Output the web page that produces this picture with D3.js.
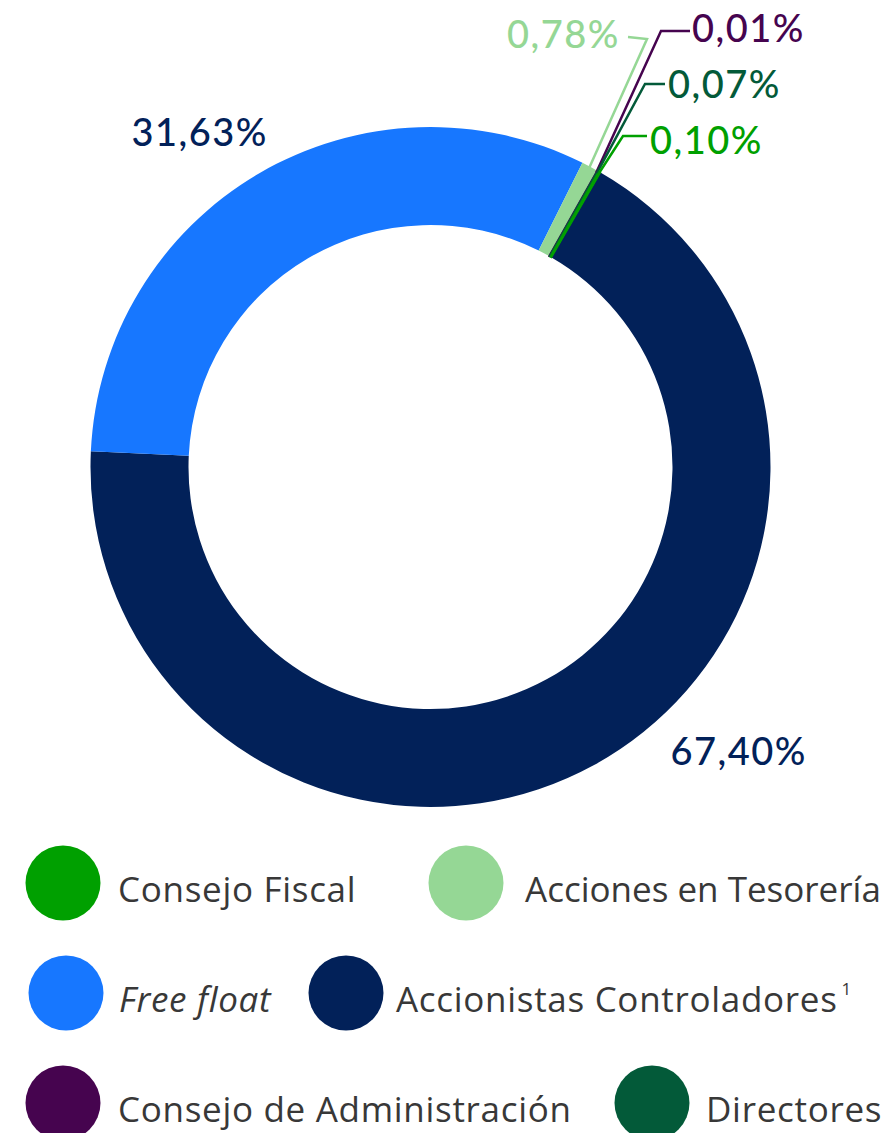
<!DOCTYPE html>
<html>
<head>
<meta charset="utf-8">
<script src="https://cdn.jsdelivr.net/npm/d3@7"></script>
<style>
  body { margin: 0; background: #fff; }
  svg { display: block; }
</style>
</head>
<body>
<div id="vis"></div>
<script>
// Frame
const FRAME_WIDTH = 888;
const FRAME_HEIGHT = 1133;

// Data (clockwise, starting from the controlling shareholders slice)
const SLICE_NAMES = ["Accionistas Controladores", "Free float", "Acciones en Tesorería",
                     "Consejo de Administración", "Directores", "Consejo Fiscal"];
const SLICE_VALUES = [67.40, 31.63, 0.78, 0.01, 0.07, 0.10];
const SLICE_LABELS = ["67,40%", "31,63%", "0,78%", "0,01%", "0,07%", "0,10%"];
const SLICE_COLORS = ["#022159", "#1777FF", "#95D795", "#46044F", "#035A39", "#00A000"];

// Legend (reading order)
const LEGEND_NAMES = ["Consejo Fiscal", "Acciones en Tesorería", "Free float",
                      "Accionistas Controladores", "Consejo de Administración", "Directores"];

// Donut geometry
const CX = 430.5, CY = 467;
const R_OUT = 340, R_IN = 242;
const START = 30 * Math.PI / 180;

const svg = d3.select("#vis")
  .append("svg")
    .attr("width", FRAME_WIDTH)
    .attr("height", FRAME_HEIGHT);

const colorOf = d3.scaleOrdinal().domain(SLICE_NAMES).range(SLICE_COLORS);

const pie = d3.pie()
  .sort(null)
  .value((d, i) => SLICE_VALUES[i])
  .startAngle(START)
  .endAngle(START + 2 * Math.PI);

const arcs = pie(SLICE_NAMES);

const arc = d3.arc().innerRadius(R_IN).outerRadius(R_OUT);

const g = svg.append("g").attr("transform", "translate(" + CX + "," + CY + ")");

// tiny slices get a stroke so they stay visible
g.selectAll("path.slice")
  .data(arcs)
  .enter()
  .append("path")
    .attr("class", "slice")
    .attr("d", arc)
    .attr("fill", d => colorOf(d.data))
    .attr("stroke", (d, i) => SLICE_VALUES[i] < 0.5 ? colorOf(d.data) : "none")
    .attr("stroke-width", (d, i) => SLICE_VALUES[i] < 0.05 ? 1.8 : 1.4);

// label placement (absolute page coords)
const LABEL_LAYOUT = [
  {x: 807, y: 765, anchor: "end"},                                   // 67,40
  {x: 268, y: 146, anchor: "end"},                                   // 31,63
  {x: 620, y: 48, anchor: "end", elbow: [647, 39], tail: [628, 37]}, // 0,78
  {x: 692, y: 42, anchor: "start", elbow: [661, 31], tail: [690, 31]}, // 0,01
  {x: 668, y: 98, anchor: "start", elbow: [645, 84], tail: [665, 84]}, // 0,07
  {x: 650, y: 154, anchor: "start", elbow: [623, 136], tail: [647, 136]} // 0,10
];

const FONT_PCT = "Lato, 'Noto Sans', sans-serif";

arcs.forEach((d, i) => {
  const L = LABEL_LAYOUT[i];
  const col = colorOf(d.data);
  if (L.elbow) {
    const a = (d.startAngle + d.endAngle) / 2;
    const sx = CX + (R_OUT - 2) * Math.sin(a);
    const sy = CY - (R_OUT - 2) * Math.cos(a);
    svg.append("path")
      .attr("d", d3.line()([[sx, sy], L.elbow, L.tail]))
      .attr("fill", "none")
      .attr("stroke", col)
      .attr("stroke-width", 2.5);
  }
  svg.append("text")
    .attr("x", L.x)
    .attr("y", L.y)
    .attr("text-anchor", L.anchor)
    .attr("font-family", FONT_PCT)
    .attr("font-size", 38)
    .attr("font-weight", 500)
    .attr("letter-spacing", 1.5)
    .attr("fill", i < 2 ? SLICE_COLORS[0] : col)
    .text(SLICE_LABELS[i]);
});

// Legend
const LEGEND_LAYOUT = [
  {cx: 63, tx: 118, cy: 883}, {cx: 466, tx: 525, cy: 883},
  {cx: 66, tx: 119, cy: 993}, {cx: 346, tx: 396, cy: 993},
  {cx: 63, tx: 118, cy: 1103}, {cx: 652, tx: 706, cy: 1103}
];

const legend = svg.selectAll("g.legend")
  .data(LEGEND_NAMES)
  .enter()
  .append("g")
    .attr("class", "legend");

legend.append("circle")
  .attr("cx", (d, i) => LEGEND_LAYOUT[i].cx)
  .attr("cy", (d, i) => LEGEND_LAYOUT[i].cy)
  .attr("r", 37.5)
  .attr("fill", d => colorOf(d));

const lt = legend.append("text")
  .attr("x", (d, i) => LEGEND_LAYOUT[i].tx)
  .attr("y", (d, i) => LEGEND_LAYOUT[i].cy + 19)
  .attr("font-family", "'Open Sans', 'Noto Sans', sans-serif")
  .attr("font-size", 35)
  .attr("letter-spacing", 0.7)
  .attr("fill", "#383838")
  .attr("font-style", d => d === "Free float" ? "italic" : "normal")
  .text(d => d);

// keep long entries inside the frame: tighten spacing, then the font size
lt.each(function(d, i) {
  const t = d3.select(this);
  const room = FRAME_WIDTH - 4 - LEGEND_LAYOUT[i].tx;
  if (this.getComputedTextLength() > room) t.attr("letter-spacing", 0);
  let fs = 35;
  while (this.getComputedTextLength() > room && fs > 20) {
    fs -= 0.5;
    t.attr("font-size", fs);
  }
});

// footnote mark on the controlling shareholders entry
lt.filter(d => d === "Accionistas Controladores")
  .append("tspan")
    .attr("dx", 4)
    .attr("dy", -17)
    .attr("font-size", 17)
    .text("1");
</script>
</body>
</html>
